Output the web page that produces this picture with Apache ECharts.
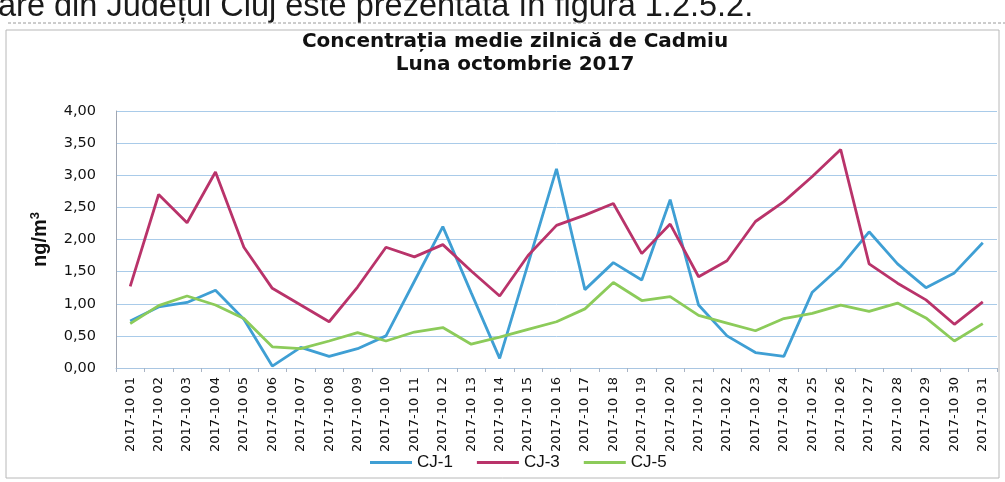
<!DOCTYPE html>
<html>
<head>
<meta charset="utf-8">
<title>Concentrația medie zilnică de Cadmiu</title>
<script src="https://cdn.jsdelivr.net/npm/echarts@6/dist/echarts.min.js"></script>
<style>
  html, body { margin: 0; padding: 0; background: #fff; }
  #chart { width: 1005px; height: 482px; }
</style>
</head>
<body>
<div id="chart"></div>
<script>
// zilele lunii octombrie 2017
var categories = ['2017-10 01', '2017-10 02', '2017-10 03', '2017-10 04', '2017-10 05', '2017-10 06',
  '2017-10 07', '2017-10 08', '2017-10 09', '2017-10 10', '2017-10 11', '2017-10 12', '2017-10 13',
  '2017-10 14', '2017-10 15', '2017-10 16', '2017-10 17', '2017-10 18', '2017-10 19', '2017-10 20',
  '2017-10 21', '2017-10 22', '2017-10 23', '2017-10 24', '2017-10 25', '2017-10 26', '2017-10 27',
  '2017-10 28', '2017-10 29', '2017-10 30', '2017-10 31'];

// ng/m3 - valori
var cj1 = [0.73, 0.95, 1.02, 1.21, 0.76, 0.03, 0.32, 0.18, 0.30, 0.50, 1.35, 2.20, 1.17, 0.15, 1.62, 3.10,
  1.22, 1.64, 1.37, 2.62, 0.98, 0.50, 0.24, 0.18, 1.18, 1.58, 2.12, 1.62, 1.25, 1.48, 1.95];
var cj3 = [1.27, 2.70, 2.26, 3.05, 1.88, 1.24, 0.98, 0.72, 1.26, 1.88, 1.73, 1.92, 1.51, 1.12, 1.75, 2.22,
  2.38, 2.56, 1.78, 2.24, 1.42, 1.67, 2.28, 2.59, 2.98, 3.40, 1.62, 1.32, 1.06, 0.68, 1.03];
var cj5 = [0.69, 0.97, 1.12, 0.98, 0.77, 0.33, 0.30, 0.42, 0.55, 0.42, 0.56, 0.63, 0.37, 0.48, 0.60, 0.72,
  0.92, 1.33, 1.05, 1.11, 0.82, 0.70, 0.58, 0.77, 0.85, 0.98, 0.88, 1.01, 0.78, 0.42, 0.69];

var seriesNames = ['CJ-1', 'CJ-3', 'CJ-5'];
var seriesColors = ['#3f9fd4', '#b9336a', '#8ccb5a'];
var yTicks = [0, 0.5, 1, 1.5, 2, 2.5, 3, 3.5, 4];

var myChart = echarts.init(document.getElementById('chart'));

function makeLine(name, data, color) {
  return {
    name: name,
    type: 'line',
    data: data,
    symbol: 'none',
    lineStyle: { color: color, width: 2.8 },
    itemStyle: { color: color }
  };
}

var option = {
  backgroundColor: '#fff',
  animation: false,
  title: {
    text: 'Concentrația medie zilnică de Cadmiu\nLuna octombrie 2017',
    left: 510,
    top: 25,
    textAlign: 'center',
    textStyle: {
      fontFamily: 'DejaVu Sans',
      fontSize: 20,
      fontWeight: 'bold',
      color: '#111',
      lineHeight: 23
    }
  },
  graphic: [
    {
      type: 'text',
      left: -2,
      top: -9,
      style: {
        text: 'are din Județul Cluj este prezentată în figura 1.2.5.2.',
        font: '32.5px "Liberation Sans"',
        fill: '#1a1a1a'
      }
    },
    {
      type: 'line',
      shape: { x1: 8, y1: 23, x2: 1005, y2: 23 },
      style: { stroke: '#9a9a9a', lineWidth: 1, lineDash: [3, 2] }
    },
    {
      type: 'rect',
      shape: { x: 6, y: 30, width: 993, height: 448 },
      style: { fill: 'none', stroke: '#b8b8b8', lineWidth: 1 },
      z: -1
    }
  ],
  legend: {
    data: seriesNames,
    left: 365,
    top: 449,
    icon: 'rect',
    itemWidth: 42,
    itemHeight: 3,
    itemGap: 24,
    textStyle: { fontFamily: 'Liberation Sans', fontSize: 17, color: '#111' }
  },
  grid: {
    left: 116,
    right: 8,
    top: 111,
    bottom: 114
  },
  xAxis: {
    type: 'category',
    data: categories,
    boundaryGap: true,
    axisLine: { lineStyle: { color: '#a9c6e2' } },
    axisTick: { show: true, length: 4, lineStyle: { color: '#a9b4c4' } },
    axisLabel: {
      rotate: 90,
      interval: 0,
      margin: 9,
      fontFamily: 'DejaVu Sans',
      fontSize: 13,
      color: '#111'
    }
  },
  yAxis: {
    type: 'value',
    min: yTicks[0],
    max: yTicks[yTicks.length - 1],
    interval: 0.5,
    name: '{a|ng/m}{b|3}',
    nameLocation: 'middle',
    nameRotate: 90,
    nameGap: 64,
    nameTextStyle: {
      rich: {
        a: { fontFamily: 'Liberation Sans', fontSize: 20, fontWeight: 'bold', color: '#111' },
        b: { fontFamily: 'Liberation Sans', fontSize: 13, fontWeight: 'bold', color: '#111', verticalAlign: 'top', padding: [0, 0, 10, 0] }
      }
    },
    axisLine: { show: true, lineStyle: { color: '#a0a6b2' } },
    axisTick: { show: false },
    axisLabel: {
      margin: 20,
      fontFamily: 'DejaVu Sans',
      fontSize: 14.5,
      color: '#111',
      formatter: function (v) { return v.toFixed(2).replace('.', ','); }
    },
    splitLine: { lineStyle: { color: '#a9cbe9', width: 1 } }
  },
  series: [
    makeLine(seriesNames[0], cj1, seriesColors[0]),
    makeLine(seriesNames[1], cj3, seriesColors[1]),
    makeLine(seriesNames[2], cj5, seriesColors[2])
  ]
};
myChart.setOption(option);
</script>
</body>
</html>
